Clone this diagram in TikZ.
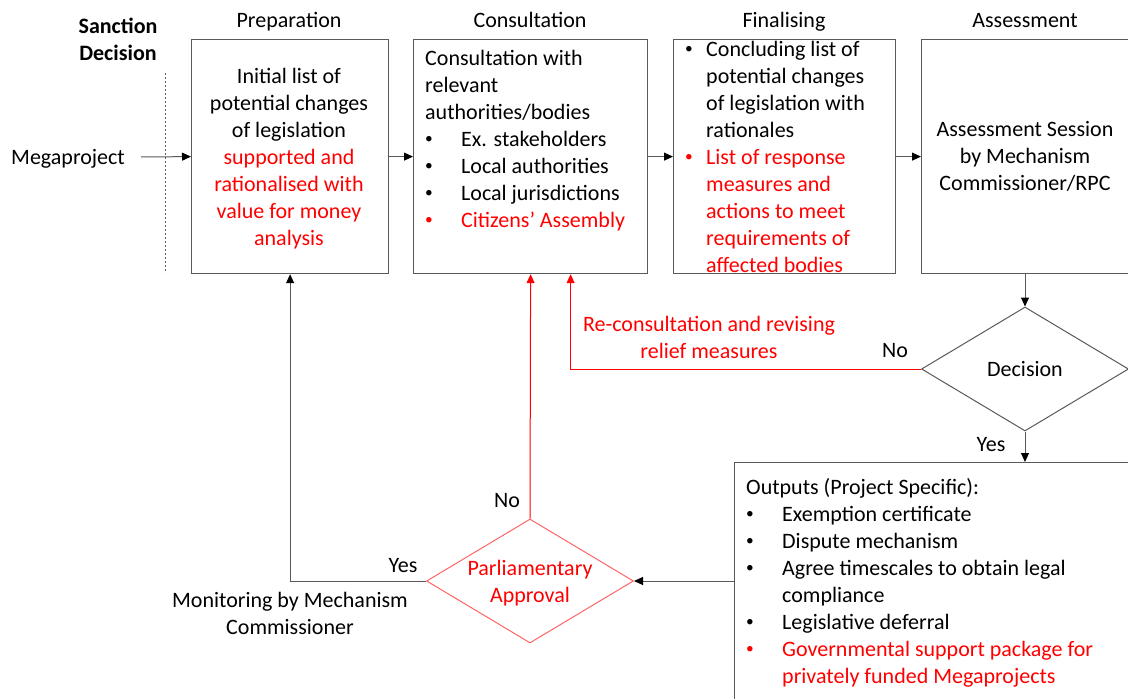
\documentclass[tikz,border=0pt]{standalone}
\usepackage{fontspec}
\setmainfont{Carlito}
\usetikzlibrary{shapes.geometric,arrows.meta}
\definecolor{linegray}{RGB}{89,89,89}
\definecolor{txtred}{RGB}{255,0,0}
\definecolor{diared}{RGB}{255,100,100}
% bullet set in a box of given width, so the text after it lines up
\newcommand{\bul}[1]{\makebox[#1][l]{\raisebox{2.2pt}{\scalebox{0.7}{\textbullet}}}}

\begin{document}
\begin{tikzpicture}[x=1pt,y=-1pt,
  every node/.style={font=\fontsize{22}{27}\selectfont, inner sep=0pt},
  stagebox/.style={draw=linegray, line width=1.2pt, rectangle, inner sep=0pt, anchor=north west},
  decision/.style={diamond, line width=1pt, inner sep=0pt, minimum width=207pt, minimum height=124pt},
  flow/.style={draw=linegray, line width=1pt, -{Triangle[length=9pt,width=8pt,color=black]}},
  redflow/.style={draw=txtred, line width=1pt, -{Triangle[length=9pt,width=8pt]}, color=txtred},
  redtext/.style={text=txtred}
]
\useasboundingbox (0,0) rectangle (1128,699);
\clip (0,0) rectangle (1128,699);

% stage boxes
\node[stagebox, minimum width=197pt, minimum height=234pt] (b1) at (191,39) {};
\node[stagebox, minimum width=234pt, minimum height=234pt] (b2) at (413,39) {};
\node[stagebox, minimum width=222pt, minimum height=234pt] (b3) at (673,39) {};
\node[stagebox, minimum width=215pt, minimum height=234pt] (b4) at (921,39) {};
\node[stagebox, minimum width=420pt, minimum height=260pt] (out) at (734,462) {};

% decisions
\node[decision, draw=linegray] (dec) at (1025,369) {};
\node[decision, draw=diared] (pa) at (530,581) {};

% column headings
\node[anchor=north, align=center, font=\fontsize{22}{27}\selectfont\bfseries] (sanction) at (118,14) {\strut Sanction\\Decision};
\node[anchor=base] (lprep) at (289,27) {Preparation};
\node[anchor=base] (lcons) at (530,27) {Consultation};
\node[anchor=base] (lfin) at (784,27) {Finalising};
\node[anchor=base] (lass) at (1025,27) {Assessment};

% sanction line
\draw[linegray, line width=0.8pt, dash pattern=on 2pt off 2pt] (165,73) -- (165,273);

% box texts
\node[anchor=north, align=center] (t1) at (289,64) {\strut Initial list of\\potential changes\\of legislation\\
  \textcolor{txtred}{supported and}\\\textcolor{txtred}{rationalised with}\\\textcolor{txtred}{value for money}\\\textcolor{txtred}{analysis}};

\node[anchor=north west, align=left] (t2) at (425,46) {\strut Consultation with\\relevant\\authorities/bodies\\
  \bul{36pt}Ex. stakeholders\\\bul{36pt}Local authorities\\\bul{36pt}Local jurisdictions\\
  \textcolor{txtred}{\bul{36pt}Citizens’ Assembly}};

\node[anchor=north west, align=left] (t3) at (685,37) {\strut\bul{21pt}Concluding list of\\\hspace*{21pt}potential changes\\
  \hspace*{21pt}of legislation with\\\hspace*{21pt}rationales\\
  \textcolor{txtred}{\bul{21pt}List of response}\\\textcolor{txtred}{\hspace*{21pt}measures and}\\
  \textcolor{txtred}{\hspace*{21pt}actions to meet}\\\textcolor{txtred}{\hspace*{21pt}requirements of}\\
  \textcolor{txtred}{\hspace*{21pt}affected bodies}};

\node[anchor=north, align=center] (t4) at (1025,117) {\strut Assessment Session\\by Mechanism\\Commissioner/RPC};

\node[anchor=north west, align=left] (tout) at (746,475) {\strut Outputs (Project Specific):\\
  \bul{36pt}Exemption certificate\\\bul{36pt}Dispute mechanism\\
  \bul{36pt}Agree timescales to obtain legal\\\hspace*{36pt}compliance\\
  \bul{36pt}Legislative deferral\\
  \textcolor{txtred}{\bul{36pt}Governmental support package for}\\
  \textcolor{txtred}{\hspace*{36pt}privately funded Megaprojects}};

\node[anchor=base] (dectext) at (1025,376) {Decision};
\node[anchor=north, align=center, redtext] (patext) at (530,556) {\strut Parliamentary\\Approval};

% input
\node[anchor=base] (mp) at (68,164) {Megaproject};
\coordinate (mpout) at (141,157);
\draw[flow] (mpout) -- (b1.west);

% main flow
\draw[flow] (b1.east) -- (b2.west);
\draw[flow] (b2.east) -- (b3.west);
\draw[flow] (b3.east) -- (b4.west);
\draw[flow] (dec.north |- b4.south) -- (dec.north);

% decision outcomes
\draw[flow] (dec.south) -- (dec.south |- out.north);
\node[anchor=base] (yes1) at (991,451) {Yes};
\draw[redflow] (dec.west) -| ([xshift=40pt]b2.south);
\node[anchor=base] (no1) at (895,357) {No};
\node[anchor=north, align=center, redtext] (reconsult) at (709,312) {\strut Re-consultation and revising\\relief measures};

% parliamentary approval
\draw[flow] (pa.east -| out.west) -- (pa.east);
\draw[redflow] (pa.north) -- (b2.south);
\node[anchor=base] (no2) at (507,507) {No};
\draw[flow] (pa.west) -| (b1.south);
\node[anchor=base] (yes2) at (403,572) {Yes};
\node[anchor=north, align=center] (monitor) at (290,588) {\strut Monitoring by Mechanism\\Commissioner};
\end{tikzpicture}
\end{document}
